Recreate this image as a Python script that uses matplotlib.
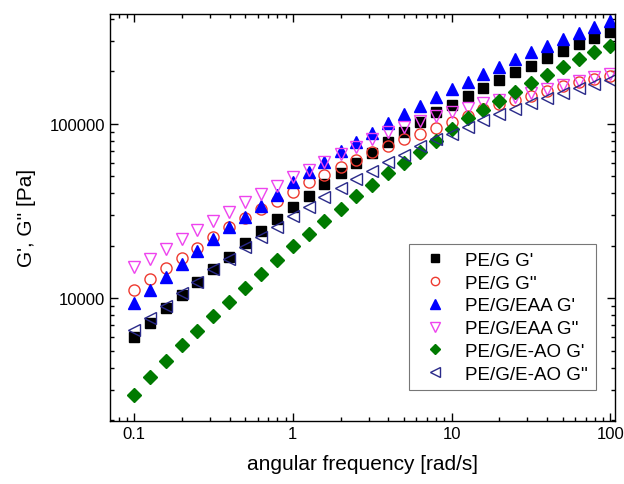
import matplotlib
matplotlib.use("Agg")
import matplotlib.pyplot as plt
from matplotlib.ticker import LogLocator, FixedLocator, FixedFormatter, NullFormatter

plt.rcParams['font.family'] = ['Liberation Sans', 'DejaVu Sans']

# angular frequency, 10 points per decade
freq = [0.1, 0.126, 0.158, 0.2, 0.251, 0.316, 0.398, 0.501, 0.631, 0.794,
        1.0, 1.26, 1.58, 2.0, 2.51, 3.16, 3.98, 5.01, 6.31, 7.94,
        10.0, 12.6, 15.8, 20.0, 25.1, 31.6, 39.8, 50.1, 63.1, 79.4, 100.0]

pe_g_gp = [6020, 7240, 8760, 10400, 12450, 14730, 17190, 20690, 24430, 28620,
           33400, 38780, 45270, 52140, 59500, 68160, 78820, 89980, 102700, 116700,
           128500, 144200, 160900, 178100, 197500, 216000, 238500, 261700, 286600, 311400, 335800]
pe_g_gpp = [11160, 12900, 14860, 16960, 19360, 22390, 25750, 28770, 32530, 36310,
            40890, 46300, 51180, 56660, 61990, 68800, 75280, 81500, 87600, 95240,
            103100, 111600, 121100, 129400, 136400, 145400, 155300, 164600, 173500, 181200, 188600]
eaa_gp = [9440, 11110, 13250, 15800, 18760, 21890, 25550, 29470, 33990, 39300,
          46300, 52830, 60300, 69820, 79150, 88810, 101300, 114100, 127400, 142300,
          158800, 174900, 193600, 212900, 234500, 257900, 281300, 306200, 331400, 358800, 387500]
eaa_gpp = [15060, 16810, 19180, 21890, 24750, 27870, 31390, 35690, 39660, 44260,
           49450, 54830, 60300, 67290, 73790, 82030, 89380, 96110, 104700, 111200,
           117900, 124000, 131100, 137300, 142900, 150100, 158800, 168100, 177200, 185300, 193600]
eao_gp = [2800, 3550, 4380, 5380, 6520, 7890, 9510, 11500, 13800, 16600,
          19900, 23300, 27700, 32500, 38500, 44700, 52100, 59700, 68800, 79800,
          93500, 108000, 120500, 134900, 153100, 171300, 191100, 213300, 236000, 257800, 281200]
eao_gpp = [6580, 7680, 9070, 10720, 12450, 14730, 16810, 19610, 22390, 25550,
           29550, 33540, 37970, 42770, 48360, 53960, 60300, 66410, 74480, 82030,
           87600, 95740, 104900, 114100, 121900, 131500, 141000, 150100, 160900, 169600, 178800]

labels = ["PE/G G'", "PE/G G''", "PE/G/EAA G'", "PE/G/EAA G''", "PE/G/E-AO G'", "PE/G/E-AO G''"]

fig = plt.figure(figsize=(6.24, 4.85), dpi=100)
ax = fig.add_axes([0.1763, 0.1305, 0.8093, 0.8385])

ax.plot(freq, pe_g_gp, 's', ms=7, color='black', label=labels[0])
ax.plot(freq, pe_g_gpp, 'o', ms=8, mfc='none', mec='#ee3a30', mew=1.0, label=labels[1])
ax.plot(freq, eaa_gp, '^', ms=9, color='#0000ff', label=labels[2])
ax.plot(freq, eaa_gpp, 'v', ms=9, mfc='none', mec='#ee44ee', mew=1.0, label=labels[3])
ax.plot(freq, eao_gp, 'D', ms=7, color='#007a00', label=labels[4])
ax.plot(freq, eao_gpp, '<', ms=9, mfc='none', mec='#2a2a8a', mew=1.0, label=labels[5])

ax.set_xscale('log')
ax.set_yscale('log')
ax.set_xlim(0.0706, 107)
ax.set_ylim(1990, 427000)

ax.xaxis.set_major_locator(FixedLocator([0.1, 1, 10, 100]))
ax.xaxis.set_major_formatter(FixedFormatter(['0.1', '1', '10', '100']))
ax.xaxis.set_minor_locator(LogLocator(base=10, subs=range(2, 10)))
ax.xaxis.set_minor_formatter(NullFormatter())
ax.yaxis.set_major_locator(FixedLocator([10000, 100000]))
ax.yaxis.set_major_formatter(FixedFormatter(['10000', '100000']))
ax.yaxis.set_minor_locator(LogLocator(base=10, subs=range(2, 10)))
ax.yaxis.set_minor_formatter(NullFormatter())

ax.tick_params(which='both', direction='in', top=True, right=True, labelsize=12, width=1.0)
ax.tick_params(which='major', length=6)
ax.tick_params(which='minor', length=3)
for s in ax.spines.values():
    s.set_linewidth(1.0)

ax.set_xlabel('angular frequency [rad/s]', fontsize=15, labelpad=10)
ax.set_ylabel("G', G'' [Pa]", fontsize=15, labelpad=10)

leg = ax.legend(loc='lower right', bbox_to_anchor=(0.962, 0.075), borderaxespad=0,
                fontsize=13.5, frameon=True, fancybox=False, edgecolor='#555555',
                markerscale=0.75, handlelength=2.0, handletextpad=0.6,
                labelspacing=0.3, borderpad=0.4)
leg.get_frame().set_linewidth(0.8)

fig.savefig('out.png', dpi=100)
